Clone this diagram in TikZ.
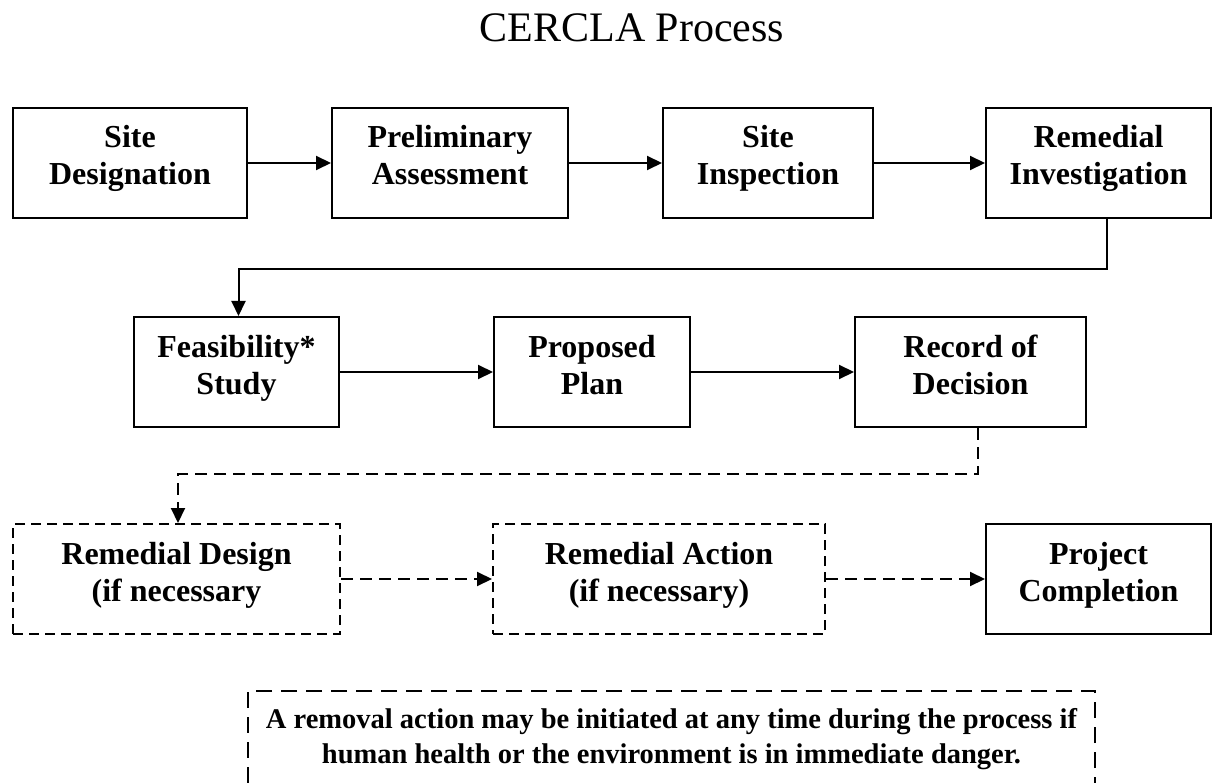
\documentclass[tikz,border=0pt]{standalone}
\usepackage{fontspec}
\setmainfont{Liberation Serif}
\usetikzlibrary{arrows.meta}
\newcommand{\twoline}[2]{\begin{tabular}[t]{@{}c@{}}#1\\#2\end{tabular}}
\begin{document}
\begin{tikzpicture}[x=1pt,y=-1pt,
  box/.style={draw, line width=2pt, inner sep=0pt,
    font=\fontsize{32}{37}\selectfont\bfseries, minimum height=110pt,
    text height=40pt, text depth=70pt},
  dbox/.style={box, dash pattern=on 10pt off 6pt},
  link/.style={line width=2pt, -{Triangle[length=15pt,width=14pt]}},
  dlink/.style={link, dash pattern=on 12pt off 7pt},
  notebox/.style={draw, line width=2pt, dash pattern=on 16pt off 9pt},
  notetext/.style={align=center, font=\fontsize{28.5}{35}\selectfont\bfseries}
  ]
\useasboundingbox (0,0) rectangle (1214,783);
\clip (0,0) rectangle (1214,783);

\node[font=\fontsize{42}{48}\selectfont, anchor=base] (title) at (632,42) {CERCLA Process};

% row 1
\node[box, minimum width=234pt] (sd) at (130,163) {\twoline{Site}{Designation}};
\node[box, minimum width=236pt] (pa) at (450,163) {\twoline{Preliminary}{Assessment}};
\node[box, minimum width=210pt] (si) at (768,163) {\twoline{Site}{Inspection}};
\node[box, minimum width=225pt] (ri) at (1098.5,163) {\twoline{Remedial}{Investigation}};

% row 2
\node[box, minimum width=205pt] (fs) at (236.5,372) {\twoline{Feasibility*}{Study}};
\node[box, minimum width=196pt] (pp) at (592,372) {\twoline{Proposed}{Plan}};
\node[box, minimum width=231pt] (rod) at (970.5,372) {\twoline{Record of}{Decision}};

% row 3
\node[dbox, minimum width=327pt] (rdes) at (176.5,579) {\twoline{Remedial Design}{(if necessary}};
\node[dbox, minimum width=332pt] (ra) at (659,579) {\twoline{Remedial Action}{(if necessary)}};
\node[box, minimum width=225pt] (pc) at (1098.5,579) {\twoline{Project}{Completion}};

% note
\node[notebox, minimum width=847pt, minimum height=130pt, anchor=north] (nbox) at (671.5,690) {};
\node[notetext] (note) at (671.5,739) {A removal action may be initiated at any time during the process if\\human health or the environment is in immediate danger.};

% connectors
\draw[link] (sd.east) -- (pa.west);
\draw[link] (pa.east) -- (si.west);
\draw[link] (si.east) -- (ri.west);
\draw[link] ([xshift=8.5pt]ri.south) -- ++(0,50) -| ([xshift=2pt]fs.north);
\draw[link] (fs.east) -- (pp.west);
\draw[link] (pp.east) -- (rod.west);
\draw[dlink] ([xshift=7.5pt]rod.south) -- ++(0,46) -| ([xshift=1.5pt]rdes.north);
\draw[dlink] (rdes.east) -- (ra.west);
\draw[dlink] (ra.east) -- (pc.west);
\end{tikzpicture}
\end{document}
